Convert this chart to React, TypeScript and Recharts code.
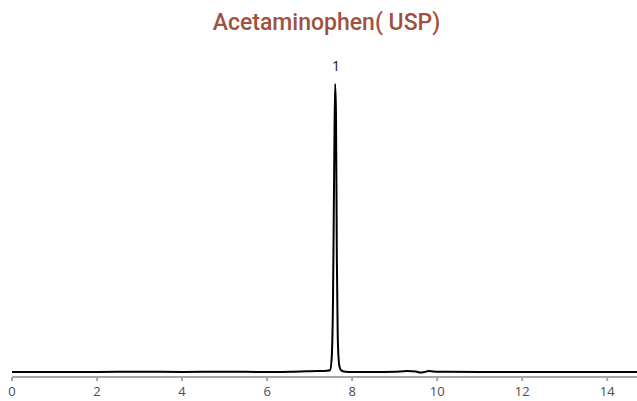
import { LineChart, Line, XAxis, YAxis, LabelList } from 'recharts';

// Retention time (min) and detector response (% of the main peak)
const TIMES = [
  0, 1, 2, 3, 4, 5, 6, 6.8, 7.2, 7.4, 7.48, 7.52, 7.55, 7.58, 7.6, 7.62, 7.64,
  7.66, 7.68, 7.7, 7.74, 7.8, 8, 8.5, 9, 9.3, 9.5, 9.6, 9.7, 9.8, 9.9, 10.2,
  11, 12, 13, 14, 14.7,
];
const SIGNAL = [
  0, 0, 0, 0.1, 0, 0.1, 0, 0.2, 0.3, 0.4, 0.6, 5, 25, 75, 100, 90, 40,
  14, 5, 2, 0.6, 0.2, 0, 0, 0.1, 0.3, 0.2, -0.2, 0, 0.3, 0.2, 0.1,
  0, 0, 0, 0, 0,
];
// peak numbers, keyed by retention time of the apex
const PEAKS: Record<number, string> = { 7.6: '1' };

const X_TICKS = [0, 2, 4, 6, 8, 10, 12, 14];

const data = TIMES.map((t, i) => ({ t, v: SIGNAL[i], peak: PEAKS[t] }));

const TICK_STYLE = { fontSize: 13, fill: '#4d4d4d', fontFamily: '"Open Sans", sans-serif' };

function PeakLabel(props: any) {
  const { x, y, value } = props;
  if (!value) return null;
  return (
    <text
      x={x + 1}
      y={y - 13}
      textAnchor="middle"
      fontSize={14}
      fill="#111"
      fontFamily='"Open Sans", sans-serif'
    >
      {value}
    </text>
  );
}

export default function App() {
  return (
    <div style={{ position: 'relative', width: 637, height: 401, background: '#fff' }}>
      <style>{'body { margin: 0; }'}</style>
      <div
        style={{
          position: 'absolute',
          top: 9,
          left: 0,
          width: 653,
          textAlign: 'center',
          fontFamily: 'Roboto, sans-serif',
          fontWeight: 500,
          fontSize: 23,
          color: '#a0523e',
        }}
      >
        Acetaminophen( USP)
      </div>
      <LineChart
        width={637}
        height={401}
        data={data}
        margin={{ top: 60, right: 0, left: 12, bottom: 0 }}
      >
        <XAxis
          dataKey="t"
          type="number"
          domain={[0, 14.7]}
          ticks={X_TICKS}
          allowDataOverflow
          height={24}
          stroke="#a6a6a6"
          strokeWidth={2}
          tickSize={4}
          tickMargin={6}
          tick={TICK_STYLE}
          interval={0}
        />
        <YAxis hide type="number" domain={[-1.74, 108.3]} allowDataOverflow />
        <Line
          type="monotone"
          dataKey="v"
          stroke="#000"
          strokeWidth={2}
          dot={false}
          isAnimationActive={false}
        >
          <LabelList dataKey="peak" content={PeakLabel} />
        </Line>
      </LineChart>
    </div>
  );
}
